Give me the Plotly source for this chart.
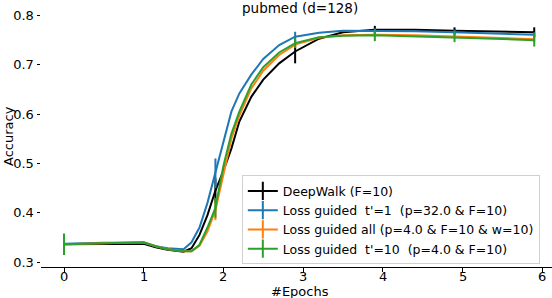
import plotly.graph_objects as go

# ---- data ----
epochs = [0, 0.5, 1.0, 1.15, 1.3, 1.5, 1.6, 1.7, 1.8, 1.9, 2.0, 2.1, 2.2, 2.35,
          2.5, 2.7, 2.9, 3.2, 3.5, 3.9, 4.4, 4.9, 5.4, 5.9]

deepwalk = [0.336, 0.337, 0.337, 0.330, 0.325, 0.321, 0.328, 0.355, 0.395, 0.445,
            0.485, 0.530, 0.585, 0.635, 0.670, 0.703, 0.727, 0.753, 0.766, 0.771,
            0.771, 0.769, 0.768, 0.766]
lg_t1 = [0.337, 0.339, 0.339, 0.332, 0.328, 0.326, 0.340, 0.370, 0.420, 0.480,
         0.545, 0.605, 0.642, 0.680, 0.712, 0.740, 0.757, 0.765, 0.769, 0.769,
         0.768, 0.766, 0.764, 0.761]
lg_all = [0.336, 0.338, 0.340, 0.332, 0.326, 0.322, 0.322, 0.333, 0.362, 0.405,
          0.480, 0.550, 0.597, 0.652, 0.688, 0.720, 0.741, 0.755, 0.760, 0.761,
          0.760, 0.758, 0.755, 0.752]
lg_t10 = [0.336, 0.338, 0.340, 0.332, 0.326, 0.322, 0.322, 0.335, 0.370, 0.410,
          0.495, 0.560, 0.605, 0.660, 0.695, 0.725, 0.744, 0.756, 0.759, 0.760,
          0.758, 0.756, 0.753, 0.750]

err_idx = [0, 9, 16, 19, 21, 23]   # points of the grid that carry error bars
err_deepwalk = [0.020, 0.025, 0.024, 0.008, 0.007, 0.010]
err_t1 = [0.020, 0.030, 0.010, 0.005, 0.005, 0.005]
err_all = [0.020, 0.020, 0.005, 0.005, 0.005, 0.006]
err_t10 = [0.022, 0.020, 0.010, 0.012, 0.010, 0.013]

names = ["DeepWalk (F=10)",
         "Loss guided  t'=1  (p=32.0 & F=10)",
         "Loss guided all (p=4.0 & F=10 & w=10)",
         "Loss guided  t'=10  (p=4.0 & F=10)"]
colors = ["#000000", "#1f77b4", "#ff7f0e", "#2ca02c"]
series = [deepwalk, lg_t1, lg_all, lg_t10]
errs = [err_deepwalk, err_t1, err_all, err_t10]

x_ticks = [0, 1, 2, 3, 4, 5, 6]
y_ticks = [0.3, 0.4, 0.5, 0.6, 0.7, 0.8]

fig = go.Figure()
for name, col, ys, er in zip(names, colors, series, errs):
    fig.add_trace(go.Scatter(x=epochs, y=ys, mode="lines",
                             line=dict(color=col, width=2),
                             showlegend=False, hoverinfo="skip"))
    fig.add_trace(go.Scatter(
        x=[epochs[i] for i in err_idx], y=[ys[i] for i in err_idx],
        mode="markers", marker=dict(size=1, opacity=0),
        error_y=dict(type="data", array=er, width=0, thickness=2, color=col),
        showlegend=False, hoverinfo="skip"))

for name, col in zip(names, colors):
    fig.add_trace(go.Scatter(x=[None], y=[None], mode="lines+markers", name=name,
                             line=dict(color=col, width=2),
                             marker=dict(symbol="line-ns", size=13,
                                         line=dict(color=col, width=2))))

annotations = [
    dict(text="pubmed (d=128)", x=0.506, y=0.9885, xref="paper",
         yref="paper", xanchor="center", yanchor="middle",
         showarrow=False, font=dict(size=13.5)),
    dict(text="#Epochs", x=0.506, y=-0.092, xref="paper", yref="paper",
         xanchor="center", yanchor="middle", showarrow=False, borderpad=0,
         font=dict(size=13)),
    dict(text="Accuracy", x=-0.0646, y=0.5, xref="paper", yref="paper",
         xanchor="center", yanchor="middle", textangle=-90,
         showarrow=False, font=dict(size=13)),
]
# x tick labels placed on the x axis scale
for v in x_ticks:
    annotations.append(dict(text=str(v), x=v, xref="x", y=-0.038, yref="paper",
                            xanchor="center", yanchor="middle", borderpad=0,
                            showarrow=False, font=dict(size=13)))

fig.update_layout(
    width=552, height=298,
    margin=dict(l=41, r=0, t=5, b=31, autoexpand=False),
    paper_bgcolor="white", plot_bgcolor="white",
    font=dict(family="DejaVu Sans", size=13, color="black"),
    showlegend=True,
    legend=dict(x=0.393, y=0.35, xanchor="left", yanchor="top",
                bgcolor="rgba(255,255,255,0.85)", bordercolor="#d0d0d0",
                borderwidth=1, font=dict(size=12.5), tracegroupgap=0),
    annotations=annotations,
)
fig.update_xaxes(range=[-0.2886, 6.123], tickvals=x_ticks,
                 showticklabels=False, automargin=False,
                 showgrid=False, zeroline=False, showline=True,
                 linecolor="black", linewidth=1, ticks="outside", ticklen=3.5,
                 tickcolor="black")
fig.update_yaxes(range=[0.2899, 0.8213], tickvals=y_ticks,
                 ticktext=[f"{v:.1f}" for v in y_ticks], automargin=False,
                 showgrid=False, zeroline=False, showline=False,
                 ticks="outside", ticklen=3.5, tickcolor="black")

fig.write_html("out.html", config={"displayModeBar": False},
               post_script="document.body.style.margin='0';"
                           "document.body.style.overflow='hidden';")
